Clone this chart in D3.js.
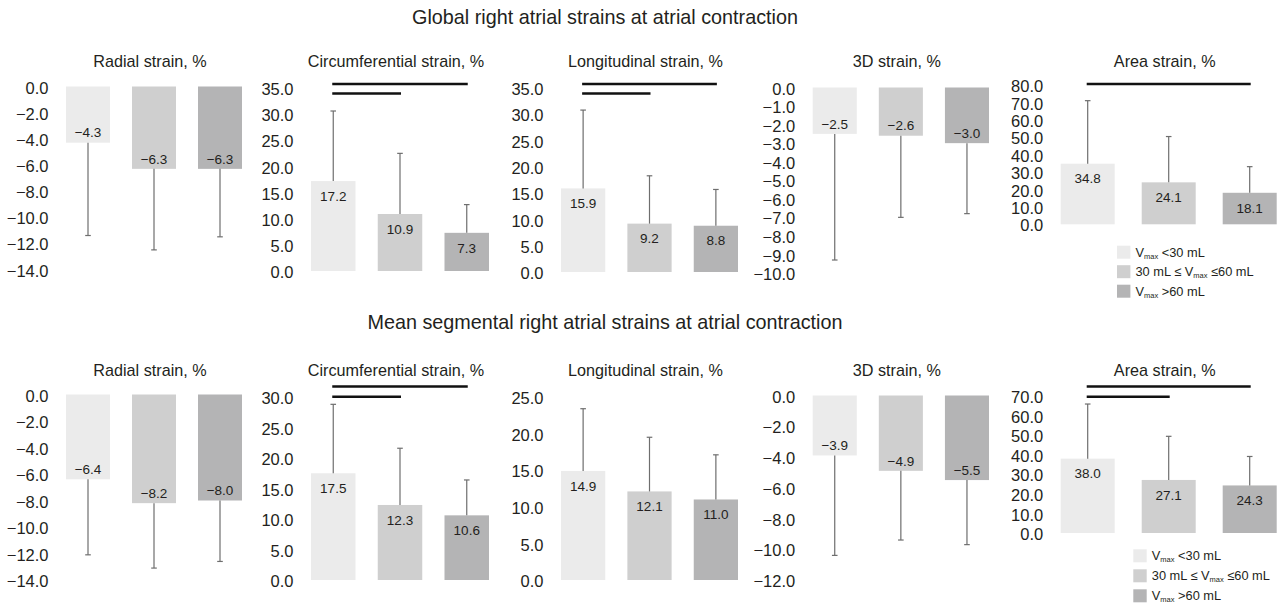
<!DOCTYPE html>
<html>
<head>
<meta charset="utf-8">
<script src="https://cdn.jsdelivr.net/npm/d3@7"></script>
<style>
  html, body { margin: 0; padding: 0; background: #fff; }
  svg { display: block; }
</style>
</head>
<body>
<svg id="chart" width="1279" height="604"></svg>
<script>
// ---- data -------------------------------------------------------------
const groups = ["<30 mL", "30–60 mL", ">60 mL"];
const groupColors = ["#ebebeb", "#cfcfcf", "#b4b4b5"];

const sectionTitles = [
  "Global right atrial strains at atrial contraction",
  "Mean segmental right atrial strains at atrial contraction"
];
const panelTitles = ["Radial strain, %", "Circumferential strain, %", "Longitudinal strain, %", "3D strain, %", "Area strain, %"];

// Global strains: group means and standard deviations
const globalRadialMean = [-4.3, -6.3, -6.3];
const globalRadialSD   = [7.1, 6.2, 5.2];
const globalCircMean   = [17.2, 10.9, 7.3];
const globalCircSD     = [13.4, 11.6, 5.4];
const globalLongMean   = [15.9, 9.2, 8.8];
const globalLongSD     = [14.9, 9.1, 6.9];
const global3DMean     = [-2.5, -2.6, -3.0];
const global3DSD       = [6.8, 4.4, 3.8];
const globalAreaMean   = [34.8, 24.1, 18.1];
const globalAreaSD     = [36.2, 26.3, 15.0];

// Mean segmental strains: group means and standard deviations
const segRadialMean = [-6.4, -8.2, -8.0];
const segRadialSD   = [5.7, 4.9, 4.6];
const segCircMean   = [17.5, 12.3, 10.6];
const segCircSD     = [11.3, 9.3, 5.8];
const segLongMean   = [14.9, 12.1, 11.0];
const segLongSD     = [8.5, 7.4, 6.1];
const seg3DMean     = [-3.9, -4.9, -5.5];
const seg3DSD       = [6.5, 4.5, 4.2];
const segAreaMean   = [38.0, 27.1, 24.3];
const segAreaSD     = [27.9, 22.3, 14.8];

// Axis domains and tick steps
const globalDomains = [[-14, 0], [0, 35], [0, 35], [-10, 0], [0, 80]];
const globalTickSteps = [2, 5, 5, 1, 10];
const segDomains = [[-14, 0], [0, 30], [0, 25], [-12, 0], [0, 70]];
const segTickSteps = [2, 5, 5, 2, 10];

// Significant pairwise differences (group index pairs) per panel
const globalSignificant = [[], [[0, 2], [0, 1]], [[0, 2], [0, 1]], [], [[0, 2]]];
const segSignificant    = [[], [[0, 2], [0, 1]], [], [], [[0, 2], [0, 1]]];

// ---- layout -----------------------------------------------------------
const font = "'Liberation Sans', Arial, Helvetica, sans-serif";
const textColor = "#231f20";
const panelX = [[66, 242], [311, 489], [561, 738], [812.7, 989], [1060.7, 1276.7]];

const rows = [
  {
    title: sectionTitles[0], titleY: 24, subY: 67,
    means: [globalRadialMean, globalCircMean, globalLongMean, global3DMean, globalAreaMean],
    sds: [globalRadialSD, globalCircSD, globalLongSD, global3DSD, globalAreaSD],
    domains: globalDomains, steps: globalTickSteps, sig: globalSignificant,
    yRanges: [[269.5, 86.5], [271, 88], [272, 88], [273, 87.5], [224.3, 85]],
    sigY: [84, 93.5],
    legend: { x: 1117, y: 245.7, gap: 19.5 }
  },
  {
    title: sectionTitles[1], titleY: 329, subY: 375.5,
    means: [segRadialMean, segCircMean, segLongMean, seg3DMean, segAreaMean],
    sds: [segRadialSD, segCircSD, segLongSD, seg3DSD, segAreaSD],
    domains: segDomains, steps: segTickSteps, sig: segSignificant,
    yRanges: [[580, 394.5], [580, 397], [580, 397], [580, 395.5], [533, 396]],
    sigY: [386.5, 396.7],
    legend: { x: 1133.3, y: 549.3, gap: 20 }
  }
];

const svg = d3.select("#chart");
svg.append("rect").attr("width", 1279).attr("height", 604).attr("fill", "#fff");

const fmt = d3.format(".1f");

rows.forEach(row => {
  svg.append("text")
    .attr("x", 605).attr("y", row.titleY)
    .attr("text-anchor", "middle")
    .attr("font-family", font).attr("font-size", 19.8).attr("fill", textColor)
    .text(row.title);

  panelTitles.forEach((pt, p) => {
    const x = d3.scaleBand().domain(d3.range(groups.length))
      .range(panelX[p]).paddingInner(1 / 3).paddingOuter(0);
    const y = d3.scaleLinear().domain(row.domains[p]).range(row.yRanges[p]);
    const g = svg.append("g");

    // panel title
    g.append("text")
      .attr("x", (panelX[p][0] + panelX[p][1]) / 2 - 4).attr("y", row.subY)
      .attr("text-anchor", "middle")
      .attr("font-family", font).attr("font-size", 16.2).attr("fill", textColor)
      .text(pt);

    // value axis: labels only
    const [d0, d1] = row.domains[p];
    const ticks = d3.range(d0, d1 + 1e-9, row.steps[p]);
    const axis = d3.axisLeft(y).tickValues(ticks).tickSize(0).tickPadding(0).tickFormat(fmt);
    const ag = g.append("g")
      .attr("transform", `translate(${panelX[p][0] - 17.5},0)`)
      .call(axis);
    ag.select(".domain").remove();
    ag.selectAll("text")
      .attr("font-family", font).attr("font-size", 16.5).attr("fill", textColor)
      .attr("dy", "0.4em");

    const means = row.means[p];
    const sds = row.sds[p];

    // bars
    g.selectAll("rect.bar").data(means).join("rect")
      .attr("class", "bar")
      .attr("x", (d, i) => x(i))
      .attr("width", x.bandwidth())
      .attr("y", d => Math.min(y(d), y(0)))
      .attr("height", d => Math.abs(y(d) - y(0)))
      .attr("fill", (d, i) => groupColors[i]);

    // error bars (one-sided, away from zero)
    const errEnd = (d, i) => d >= 0 ? d + sds[i] : d - sds[i];
    const cx = i => x(i) + x.bandwidth() / 2;
    g.selectAll("line.err").data(means).join("line")
      .attr("class", "err")
      .attr("x1", (d, i) => cx(i)).attr("x2", (d, i) => cx(i))
      .attr("y1", d => y(d)).attr("y2", (d, i) => y(errEnd(d, i)))
      .attr("stroke", "#6e6e6e").attr("stroke-width", 1.2);
    g.selectAll("line.cap").data(means).join("line")
      .attr("class", "cap")
      .attr("x1", (d, i) => cx(i) - 2.8).attr("x2", (d, i) => cx(i) + 2.8)
      .attr("y1", (d, i) => y(errEnd(d, i))).attr("y2", (d, i) => y(errEnd(d, i)))
      .attr("stroke", "#6e6e6e").attr("stroke-width", 1.2);

    // value labels inside the bars
    g.selectAll("text.val").data(means).join("text")
      .attr("class", "val")
      .attr("x", (d, i) => cx(i))
      .attr("y", d => d >= 0 ? y(d) + 15 : y(d) - 10)
      .attr("dy", "0.35em")
      .attr("text-anchor", "middle")
      .attr("font-family", font).attr("font-size", 13.5).attr("fill", textColor)
      .text(d => fmt(d));

    // significance lines
    row.sig[p].forEach((pair, k) => {
      g.append("line")
        .attr("x1", cx(pair[0]) - 1).attr("x2", cx(pair[1]) + 1)
        .attr("y1", row.sigY[k]).attr("y2", row.sigY[k])
        .attr("stroke", "#111").attr("stroke-width", 2.6);
    });
  });

  // legend
  const lg = svg.append("g");
  const legendLabels = [
    [["V", ""], ["max", "sub"], [" <30 mL", ""]],
    [["30 mL \u2264 V", ""], ["max", "sub"], [" \u226460 mL", ""]],
    [["V", ""], ["max", "sub"], [" >60 mL", ""]]
  ];
  groups.forEach((gname, i) => {
    const yy = row.legend.y + i * row.legend.gap;
    lg.append("rect")
      .attr("x", row.legend.x).attr("y", yy)
      .attr("width", 13.4).attr("height", 13)
      .attr("fill", groupColors[i]);
    const t = lg.append("text")
      .attr("x", row.legend.x + 18.5).attr("y", yy + 11)
      .attr("font-family", font).attr("font-size", 12.8).attr("fill", textColor);
    legendLabels[i].forEach(([s, kind]) => {
      if (kind === "sub") {
        t.append("tspan").attr("font-size", 7.5).attr("dy", 2).text(s);
      } else {
        t.append("tspan").attr("dy", s === legendLabels[i][0][0] ? 0 : -2).text(s);
      }
    });
  });
});
</script>
</body>
</html>
